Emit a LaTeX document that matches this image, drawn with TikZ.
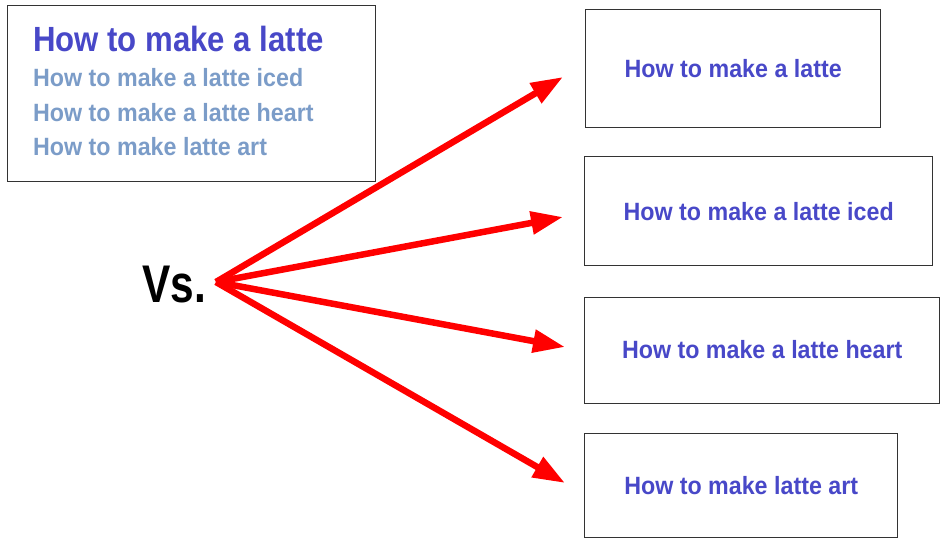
\documentclass[tikz,border=0pt]{standalone}
\usepackage{fontspec}
\usepackage{graphicx}
\setmainfont{Liberation Sans}
\usetikzlibrary{arrows.meta}
\definecolor{titleblue}{HTML}{4848C8}
\definecolor{lightblue}{HTML}{7B9CC8}
\definecolor{boxblue}{HTML}{4848C8}
\definecolor{arrowred}{HTML}{FF0000}
\definecolor{frame}{HTML}{333333}
\newcommand{\narrow}[2]{\scalebox{#1}[1]{#2}}
\tikzset{
  choice/.style={draw=frame, line width=1.4pt, minimum width=#1, inner sep=0pt,
    font=\bfseries\fontsize{25}{30}\selectfont, text=boxblue, anchor=north west},
  suggest/.style={anchor=base west, inner sep=0pt, text=lightblue,
    font=\bfseries\fontsize{25}{30}\selectfont},
  redarrow/.style={draw=arrowred, line width=6.5pt, -{Triangle[length=32pt,width=22pt]}},
}
\begin{document}
\begin{tikzpicture}[x=1pt,y=-1pt]
\useasboundingbox (0,0) rectangle (947,545);
% search box
\node[draw=frame, line width=1.4pt, anchor=north west, minimum width=368pt, minimum height=176pt, inner sep=0pt] (list) at (7,5) {};
\node[anchor=base west, inner sep=0pt, text=titleblue, font=\bfseries\fontsize{35}{40}\selectfont] (t0) at (33,52) {\narrow{0.89}{How to make a latte}};
\node[suggest] (t1) at (33,87) {\narrow{0.93}{How to make a latte iced}};
\node[suggest] (t2) at (33,122) {\narrow{0.93}{How to make a latte heart}};
\node[suggest] (t3) at (33,156) {\narrow{0.93}{How to make latte art}};
% Vs
\node[anchor=base west, inner sep=0pt, font=\bfseries\fontsize{53}{60}\selectfont] (vs) at (142,302) {\narrow{0.8}{Vs.}};
% boxes
\node[choice=295pt, minimum height=118pt] (b1) at (585,9) {\narrow{0.93}{How to make a latte}};
\node[choice=348pt, minimum height=109pt] (b2) at (584,156) {\narrow{0.93}{How to make a latte iced}};
\node[choice=355pt, minimum height=106pt] (b3) at (584,297) {\raisebox{3pt}{\narrow{0.93}{How to make a latte heart}}};
\node[choice=313pt, minimum height=104pt] (b4) at (584,433) {\narrow{0.93}{How to make latte art}};
% arrows
\coordinate (o) at (216,282);
\coordinate (e1) at (563,77);
\coordinate (e2) at (563,217);
\coordinate (e3) at (565,347);
\coordinate (e4) at (565,483);
\draw[redarrow] (o) -- (e1);
\draw[redarrow] (o) -- (e2);
\draw[redarrow] (o) -- (e3);
\draw[redarrow] (o) -- (e4);
\end{tikzpicture}
\end{document}
